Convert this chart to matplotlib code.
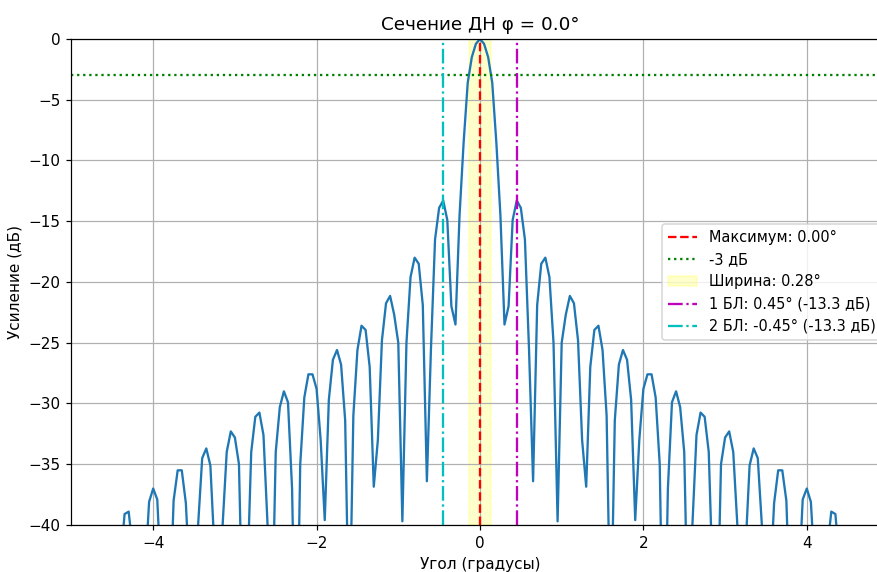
import numpy as np
import matplotlib
matplotlib.use("Agg")
import matplotlib.pyplot as plt

# Angle grid of the cut (degrees), step 0.05
ANGLE_START = -4.5
ANGLE_STEP = 0.05

# Gain (dB), from -4.50 to +4.50 deg
gain_db = [
    # -4.50 .. -0.05
    -60.0, -55.0, -43.0, -39.1, -38.9, -42.0, -50.0, -55.0, -44.0, -38.1,
    -37.0, -37.9, -45.0, -55.0, -48.0, -38.0, -35.5, -35.5, -38.2, -45.0,
    -50.0, -40.0, -34.5, -33.7, -35.1, -42.0, -50.0, -40.0, -34.0, -32.3,
    -32.8, -35.0, -50.0, -45.0, -34.0, -31.1, -30.75, -32.6, -40.0, -50.0,
    -34.0, -30.3, -29.0, -29.9, -37.0, -55.0, -35.0, -29.5, -27.6, -27.6,
    -28.8, -33.0, -39.6, -29.7, -26.4, -25.6, -26.8, -31.4, -50.0, -31.0,
    -25.6, -23.6, -23.95, -27.0, -36.85, -33.0, -24.8, -21.75, -21.15, -22.7,
    -25.0, -39.7, -25.0, -19.6, -18.0, -18.5, -21.9, -36.4, -25.5, -16.5,
    -13.9, -13.3, -14.9, -22.0, -23.5, -14.5, -8.5, -3.6, -1.5, -0.4,
    # 0.00
    0.0,
    # +0.05 .. +4.50
    -0.4, -1.5, -3.6, -8.5, -14.5, -23.5, -22.0, -14.9, -13.3, -13.9,
    -16.5, -25.5, -36.4, -21.9, -18.5, -18.0, -19.6, -25.0, -39.7, -25.0,
    -22.7, -21.15, -21.75, -24.8, -33.0, -36.85, -27.0, -23.95, -23.6, -25.6,
    -31.0, -50.0, -31.4, -26.8, -25.6, -26.4, -29.7, -39.6, -33.0, -28.8,
    -27.6, -27.6, -29.5, -35.0, -55.0, -37.0, -29.9, -29.0, -30.3, -34.0,
    -50.0, -40.0, -32.6, -30.75, -31.1, -34.0, -45.0, -50.0, -35.0, -32.8,
    -32.3, -34.0, -40.0, -50.0, -42.0, -35.1, -33.7, -34.5, -40.0, -50.0,
    -45.0, -38.2, -35.5, -35.5, -38.0, -48.0, -55.0, -45.0, -37.9, -37.0,
    -38.1, -44.0, -55.0, -50.0, -42.0, -38.9, -39.1, -43.0, -55.0, -60.0,
]

phi_cut = 0.0
max_angle = 0.00
half_width = 0.14
beam_width = 0.28
sl1_angle, sl1_level = 0.45, -13.3
sl2_angle, sl2_level = -0.45, -13.3

angles = ANGLE_START + ANGLE_STEP * np.arange(len(gain_db))

fig = plt.figure(figsize=(877 / 110, 572 / 110), dpi=110)
ax = fig.add_axes([0.0815, 0.0822, 0.9316, 0.8497])

ax.plot(angles, gain_db)
ax.axvline(max_angle, color='r', linestyle='--', label=f'Максимум: {max_angle:.2f}°')
ax.axhline(-3, color='g', linestyle=':', label='-3 дБ')
ax.axvspan(max_angle - half_width, max_angle + half_width, color='yellow', alpha=0.2,
           label=f'Ширина: {beam_width:.2f}°')
ax.axvline(sl1_angle, color='m', linestyle='-.', label=f'1 БЛ: {sl1_angle:.2f}° ({sl1_level:.1f} дБ)')
ax.axvline(sl2_angle, color='c', linestyle='-.', label=f'2 БЛ: {sl2_angle:.2f}° ({sl2_level:.1f} дБ)')

ax.set_xlim(-5, 5)
ax.set_ylim(-40, 0)
ax.set_title(f'Сечение ДН φ = {phi_cut:.1f}°')
ax.set_xlabel('Угол (градусы)')
ax.set_ylabel('Усиление (дБ)')
ax.grid(True)
ax.legend(loc='center right', fontsize=9.5)

fig.savefig('out.png', dpi=110)
